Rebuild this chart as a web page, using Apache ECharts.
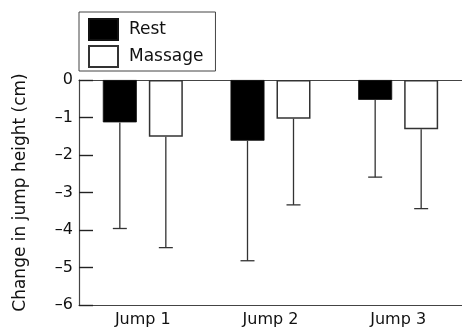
<!DOCTYPE html>
<html>
<head>
<meta charset="utf-8">
<script src="https://cdn.jsdelivr.net/npm/echarts@6/dist/echarts.min.js"></script>
<style>
  html, body { margin: 0; padding: 0; background: #fff; }
  #chart { width: 462px; height: 330px; }
</style>
</head>
<body>
<div id="chart"></div>
<script>
// Jump height change after recovery (cm), mean and SD per jump
const categories = ['Jump 1', 'Jump 2', 'Jump 3'];
const restMean = [-1.13, -1.62, -0.53];
const restSD = [2.83, 3.20, 2.06];
const massageMean = [-1.51, -1.03, -1.31];
const massageSD = [2.96, 2.30, 2.12];

const FONT = 'DejaVu Sans';
const BAR_W = 34;
const BAR_GAP = 12;
const CAP_HALF = 7;
const LINE = '#333';

// Draws the lower SD whisker below each bar
function whisker(means, sds, side) {
  return function (params, api) {
    const i = api.value(0);
    const m = means[i];
    const lo = m - sds[i];
    const cx = api.coord([i, 0])[0] + side * (BAR_W + BAR_GAP) / 2;
    const yTop = api.coord([i, m])[1];
    const yBot = api.coord([i, lo])[1];
    const style = { stroke: LINE, lineWidth: 1.3 };
    return {
      type: 'group',
      children: [
        { type: 'line', shape: { x1: cx, y1: yTop, x2: cx, y2: yBot }, style: style },
        { type: 'line', shape: { x1: cx - CAP_HALF, y1: yBot, x2: cx + CAP_HALF, y2: yBot }, style: style }
      ]
    };
  };
}

const chart = echarts.init(document.getElementById('chart'));
chart.setOption({
  animation: false,
  backgroundColor: '#fff',
  textStyle: { fontFamily: FONT, color: '#111' },
  grid: { left: 79, top: 80, bottom: 25, right: -5, containLabel: false },
  legend: {
    left: 79, top: 12,
    orient: 'vertical',
    data: ['Rest', 'Massage'],
    icon: 'rect',
    itemWidth: 29, itemHeight: 21, itemGap: 4,
    padding: [6, 12, 3, 9],
    borderColor: '#444', borderWidth: 1,
    textStyle: { fontFamily: FONT, fontSize: 17, color: '#111', padding: [0, 0, 0, 6] }
  },
  xAxis: [
    {
      type: 'category',
      data: categories,
      position: 'bottom',
      axisLine: { onZero: false, lineStyle: { color: '#444', width: 1.2 } },
      axisTick: { show: false },
      axisLabel: { fontFamily: FONT, fontSize: 16, color: '#111', margin: 7 }
    },
    {
      // zero line along the top edge of the plot
      type: 'category',
      data: categories,
      position: 'top',
      axisLine: { onZero: false, lineStyle: { color: '#444', width: 1.2 } },
      axisTick: { show: false },
      axisLabel: { show: false }
    }
  ],
  yAxis: {
    type: 'value',
    min: -6, max: 0, interval: 1,
    position: 'left',
    name: 'Change in jump height (cm)',
    nameLocation: 'middle',
    nameGap: 50,
    nameTextStyle: { fontFamily: FONT, fontSize: 17, color: '#111' },
    axisLine: { show: true, onZero: false, lineStyle: { color: '#444', width: 1.2 } },
    axisTick: { show: true, inside: true, length: 14, lineStyle: { color: '#222', width: 1.4 } },
    splitLine: { show: false },
    axisLabel: {
      fontFamily: FONT, fontSize: 16, color: '#111', margin: 6,
      formatter: function (v) { return v < 0 ? '\u2013' + Math.abs(v) : String(v); }
    }
  },
  series: [
    {
      name: 'Rest', type: 'bar', data: restMean,
      barWidth: BAR_W, barGap: (BAR_GAP / BAR_W * 100) + '%',
      itemStyle: { color: '#000', borderColor: '#111', borderWidth: 0.8 }
    },
    {
      name: 'Massage', type: 'bar', data: massageMean,
      barWidth: BAR_W,
      itemStyle: { color: '#fff', borderColor: '#333', borderWidth: 1.5 }
    },
    {
      type: 'custom', data: categories.map((c, i) => [i]),
      renderItem: whisker(restMean, restSD, -1), z: 3, silent: true
    },
    {
      type: 'custom', data: categories.map((c, i) => [i]),
      renderItem: whisker(massageMean, massageSD, 1), z: 3, silent: true
    }
  ]
});
</script>
</body>
</html>
